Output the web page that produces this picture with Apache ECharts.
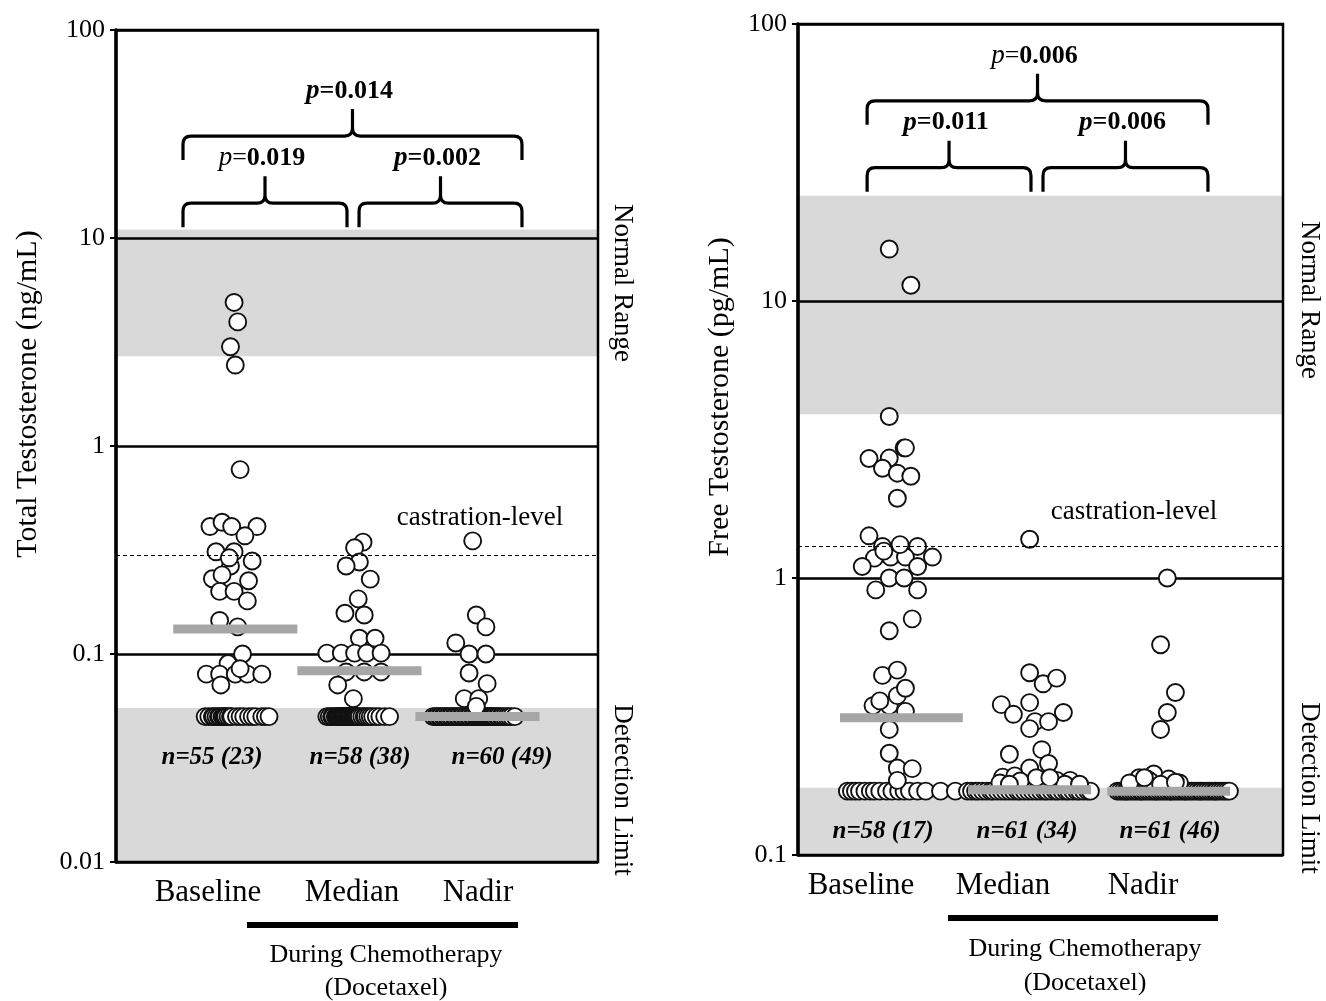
<!DOCTYPE html>
<html><head><meta charset="utf-8">
<script src="https://cdn.jsdelivr.net/npm/echarts@6/dist/echarts.min.js"></script>
<style>html,body{margin:0;padding:0;background:#fff}#c{width:1326px;height:1001px}</style>
</head><body><div id="c"></div>
<script>
// ---------- DATA ----------
const categories = ['Baseline', 'Median', 'Nadir'];

// Total testosterone (ng/mL): x = category position (1,2,3) + jitter offset
const totalBaselineOffsets = [-0.02,0.01,-0.05,-0.01,0.03,-0.22,-0.12,-0.04,0.17,0.07,-0.17,-0.02,0.13,-0.05,-0.20,-0.12,0.10,-0.14,-0.02,0.09,-0.14,0.01,0.05,-0.07,-0.25,-0.14,-0.01,0.09,0.21,-0.13,-0.06,0.03];
const totalBaselineValues  = [4.9,3.95,3.0,2.45,0.77,0.41,0.43,0.41,0.41,0.37,0.31,0.31,0.28,0.265,0.23,0.24,0.225,0.20,0.20,0.18,0.145,0.135,0.10,0.09,0.08,0.08,0.08,0.08,0.08,0.071,0.29,0.085];
const totalBaselineLimitOffsets = [-0.26,-0.23,-0.20,-0.19,-0.17,-0.15,-0.14,-0.12,-0.11,-0.10,-0.09,-0.07,-0.05,-0.04,0.00,0.03,0.06,0.10,0.13,0.16,0.21,0.24,0.27];
const totalMedianOffsets = [0.05,-0.02,0.02,-0.09,0.11,0.01,-0.10,0.06,0.02,0.15,-0.25,-0.13,-0.02,0.08,0.20,-0.09,0.06,0.20,-0.16,-0.03];
const totalMedianValues  = [0.345,0.324,0.277,0.265,0.229,0.184,0.157,0.154,0.119,0.119,0.101,0.101,0.101,0.101,0.101,0.082,0.082,0.082,0.071,0.061];
const totalMedianLimitOffsets = [-0.25,-0.23,-0.21,-0.20,-0.18,-0.17,-0.16,-0.15,-0.14,-0.13,-0.12,-0.12,-0.11,-0.10,-0.09,-0.08,-0.07,-0.07,-0.06,-0.05,-0.04,-0.03,-0.02,-0.02,-0.01,0.00,0.01,0.02,0.04,0.06,0.07,0.09,0.11,0.13,0.16,0.19,0.23,0.27];
const totalNadirOffsets = [-0.04,-0.01,0.07,-0.18,-0.07,0.07,-0.07,0.08,-0.11,0.01,-0.01];
const totalNadirValues  = [0.35,0.154,0.135,0.113,0.10,0.10,0.081,0.072,0.061,0.061,0.056];
const totalNadirLimitOffsets = [-0.37,-0.35,-0.34,-0.32,-0.31,-0.29,-0.28,-0.26,-0.25,-0.23,-0.22,-0.20,-0.19,-0.17,-0.16,-0.14,-0.13,-0.11,-0.10,-0.08,-0.07,-0.05,-0.04,-0.02,-0.01,0.00,0.01,0.02,0.03,0.04,0.05,0.06,0.07,0.08,0.09,0.10,0.11,0.12,0.13,0.14,0.16,0.17,0.19,0.20,0.22,0.24,0.26,0.28,0.31];
const totalLimitValue = 0.05;
const totalMedianLines = [0.132, 0.083, 0.05];
const totalMedianLineOffsets = [-0.01, 0.02, 0.0];
const totalNormalRange = [2.7, 11];
const totalDetectionBand = [0.01, 0.055];
const totalCastration = 0.3;
const totalN = ['n=55 (23)', 'n=58 (38)', 'n=60 (49)'];
// braces: [x start, y level, x end]
const totalBraces = [[0.556, 30.9, 3.369], [0.556, 14.7, 1.917], [2.017, 14.7, 3.369]];
const totalP = ['0.014', '0.019', '0.002'];
const totalPBold = [true, false, true];

// Free testosterone (pg/mL)
const freeBaselineOffsets = [-0.08,0.08,-0.08,-0.23,-0.08,0.03,0.04,-0.13,-0.02,0.08,-0.02,-0.23,-0.13,0.13,-0.19,-0.07,0.04,0.24,-0.28,0.13,-0.08,0.03,-0.18,0.13,0.09,-0.08,-0.13,-0.02,-0.20,-0.08,-0.02,0.04,-0.08,-0.08,-0.02,0.09,-0.02,-0.12,0.00,0.04,-0.15];
const freeBaselineValues  = [15.4,11.4,3.83,2.70,2.71,2.95,2.95,2.49,2.39,2.33,1.94,1.42,1.30,1.30,1.18,1.19,1.19,1.19,1.10,1.10,1.0,1.0,0.906,0.906,0.712,0.645,0.445,0.465,0.346,0.346,0.376,0.33,0.284,0.233,0.206,0.205,0.186,1.25,1.32,0.40,0.36];
const freeBaselineLimitOffsets = [-0.39,-0.36,-0.33,-0.30,-0.26,-0.22,-0.19,-0.15,-0.10,-0.06,-0.01,0.03,0.07,0.13,0.19,0.30,0.41];
const freeMedianOffsets = [-0.04,-0.04,0.06,0.16,-0.25,-0.16,-0.04,0.21,0.00,0.10,-0.04,-0.19,0.05,0.10,-0.04,-0.24,-0.15,0.06,0.16,0.26,-0.11,0.22,0.01,-0.26,0.33,0.11,-0.19];
const freeMedianValues  = [1.38,0.455,0.415,0.435,0.349,0.322,0.355,0.327,0.303,0.303,0.286,0.231,0.240,0.214,0.206,0.191,0.193,0.186,0.186,0.186,0.185,0.18,0.19,0.182,0.18,0.19,0.18];
const freeMedianLimitOffsets = [-0.50,-0.47,-0.44,-0.42,-0.39,-0.36,-0.33,-0.31,-0.28,-0.25,-0.22,-0.19,-0.16,-0.13,-0.11,-0.08,-0.05,-0.02,0.01,0.04,0.07,0.09,0.12,0.15,0.17,0.20,0.23,0.25,0.28,0.31,0.33,0.36,0.39,0.41];
const freeNadirOffsets = [-0.02,-0.07,0.04,-0.02,-0.07,-0.23,-0.12,-0.01,-0.17,0.07,-0.30,-0.15,-0.07,0.04,-0.19];
const freeNadirValues  = [1.0,0.574,0.386,0.327,0.284,0.19,0.196,0.188,0.188,0.182,0.182,0.185,0.18,0.183,0.19];
const freeNadirLimitOffsets = [-0.39,-0.37,-0.35,-0.33,-0.32,-0.30,-0.28,-0.26,-0.24,-0.22,-0.21,-0.19,-0.17,-0.15,-0.13,-0.11,-0.10,-0.08,-0.06,-0.04,-0.02,0.00,0.01,0.03,0.05,0.07,0.09,0.11,0.12,0.14,0.16,0.18,0.20,0.22,0.23,0.25,0.27,0.29,0.31,0.33,0.34,0.36,0.38,0.40,0.42,0.44];
const freeLimitValue = 0.17;
const freeMedianLines = [0.313, 0.172, 0.17];
const freeMedianLineOffsets = [0.01, -0.04, -0.01];
const freeNormalRange = [3.9, 24];
const freeDetectionBand = [0.1, 0.175];
const freeCastration = 1.3;
const freeN = ['n=58 (17)', 'n=61 (34)', 'n=61 (46)'];
const freeBraces = [[0.756, 52.8, 3.281], [0.756, 30.3, 1.970], [2.059, 30.3, 3.281]];
const freeP = ['0.006', '0.011', '0.006'];
const freePBold = [false, true, true];

// ---------- CHART ----------
const SERIF = "'Liberation Serif','Times New Roman',serif";
const chart = echarts.init(document.getElementById('c'), null, {renderer: 'canvas'});

function pointSeries(gi, cat, offsets, values, name) {
  return {
    type: 'scatter', name, xAxisIndex: gi, yAxisIndex: gi, z: 3,
    symbol: 'circle', symbolSize: 17, silent: true,
    itemStyle: {color: '#fff', borderColor: '#111', borderWidth: 1.9, opacity: 1},
    data: offsets.map((o, i) => [cat + o, values[i]])
  };
}
function limitSeries(gi, cat, offsets, v, name) {
  return pointSeries(gi, cat, offsets, offsets.map(() => v), name);
}
function bandSeries(gi, bands) {
  return {
    type: 'custom', xAxisIndex: gi, yAxisIndex: gi, z: -1, silent: true,
    encode: {x: -1, y: [0, 1]},
    data: bands,
    renderItem(params, api) {
      const cs = params.coordSys;
      const top = api.coord([1, api.value(1)])[1];
      const bot = api.coord([1, api.value(0)])[1];
      return {type: 'rect', shape: {x: cs.x, y: top, width: cs.width, height: bot - top}, style: {fill: '#d9d9d9'}};
    }
  };
}
function castrationSeries(gi, v) {
  return {
    type: 'line', xAxisIndex: gi, yAxisIndex: gi, data: [], z: 2, silent: true,
    markLine: {silent: true, symbol: ['none', 'none'], label: {show: false},
      lineStyle: {color: '#000', width: 1.2, type: [4, 3]}, data: [{yAxis: v}]}
  };
}
function medianSeries(gi, values, offsets, halfWidth) {
  return {
    type: 'custom', xAxisIndex: gi, yAxisIndex: gi, z: 4, silent: true,
    data: values.map((v, i) => [i + 1 + offsets[i], v]),
    renderItem(params, api) {
      const a = api.coord([api.value(0) - halfWidth, api.value(1)]);
      const b = api.coord([api.value(0) + halfWidth, api.value(1)]);
      return {type: 'rect', shape: {x: a[0], y: a[1] - 4.5, width: b[0] - a[0], height: 9}, style: {fill: '#a6a6a6'}};
    }
  };
}
function braceSeries(gi, braces, labels, bold) {
  return {
    type: 'custom', xAxisIndex: gi, yAxisIndex: gi, z: 5, silent: true,
    encode: {x: [0, 2], y: 1},
    data: braces,
    renderItem(params, api) {
      const p1 = api.coord([api.value(0), api.value(1)]);
      const p2 = api.coord([api.value(2), api.value(1)]);
      const x1 = p1[0], x2 = p2[0], y = p1[1], xm = (x1 + x2) / 2;
      const h = 24, t = 27, r = 8;
      const d = `M${x1} ${y + h} L${x1} ${y + r} Q${x1} ${y} ${x1 + r} ${y} L${xm - r} ${y} Q${xm} ${y} ${xm} ${y - r} L${xm} ${y - t}` +
                ` M${xm} ${y - r} Q${xm} ${y} ${xm + r} ${y} L${x2 - r} ${y} Q${x2} ${y} ${x2} ${y + r} L${x2} ${y + h}`;
      const isBold = bold[params.dataIndex];
      const text = isBold ? '{p|p}{b|=' + labels[params.dataIndex] + '}'
                          : '{q|p}{e|=}{b|' + labels[params.dataIndex] + '}';
      return {
        type: 'group',
        children: [
          {type: 'path', shape: {pathData: d}, style: {fill: null, stroke: '#000', lineWidth: 3.2}},
          {type: 'text', x: xm - 3, y: y - t - 18,
           style: {text,
             rich: {
               p: {font: `italic bold 27px ${SERIF}`, fill: '#000'},
               q: {font: `italic 27px ${SERIF}`, fill: '#000'},
               e: {font: `26px ${SERIF}`, fill: '#000'},
               b: {font: `bold 26px ${SERIF}`, fill: '#000'}
             },
             align: 'center', verticalAlign: 'middle', textAlign: 'center', textVerticalAlign: 'middle'}}
        ]
      };
    }
  };
}
function yAxis(gi, min, max) {
  return {
    gridIndex: gi, type: 'log', logBase: 10, min, max,
    axisLine: {show: true, lineStyle: {color: '#000', width: 3.5}},
    axisTick: {show: true, length: 6, lineStyle: {color: '#000', width: 2}},
    minorTick: {show: false},
    splitLine: {show: true, lineStyle: {color: '#000', width: 2.6}},
    axisLabel: {color: '#000', fontFamily: SERIF, fontSize: 26, margin: 11,
      formatter: v => String(+(+v).toPrecision(1))}
  };
}
function txt(x, y, text, size, extra) {
  extra = extra || {};
  return {
    type: 'text', x, y, rotation: extra.rotation || 0, silent: true,
    style: {text, font: `${extra.style || ''} ${extra.weight || ''} ${size}px ${SERIF}`, fill: '#000',
      align: 'center', verticalAlign: 'middle', textAlign: 'center', textVerticalAlign: 'middle'}
  };
}

const option = {
  animation: false,
  backgroundColor: '#fff',
  grid: [
    {left: 116, top: 30, width: 482, height: 832, show: true, borderColor: '#000', borderWidth: 2.5},
    {left: 798, top: 24, width: 485, height: 831, show: true, borderColor: '#000', borderWidth: 2.5}
  ],
  xAxis: [
    {gridIndex: 0, type: 'value', min: 0, max: 4, show: false},
    {gridIndex: 1, type: 'value', min: 0.244, max: 3.837, show: false}
  ],
  yAxis: [yAxis(0, 0.01, 100), yAxis(1, 0.1, 100)],
  series: [
    bandSeries(0, [totalNormalRange, totalDetectionBand]),
    castrationSeries(0, totalCastration),
    limitSeries(0, 1, totalBaselineLimitOffsets, totalLimitValue, categories[0]),
    pointSeries(0, 1, totalBaselineOffsets, totalBaselineValues, categories[0]),
    limitSeries(0, 2, totalMedianLimitOffsets, totalLimitValue, categories[1]),
    pointSeries(0, 2, totalMedianOffsets, totalMedianValues, categories[1]),
    limitSeries(0, 3, totalNadirLimitOffsets, totalLimitValue, categories[2]),
    pointSeries(0, 3, totalNadirOffsets, totalNadirValues, categories[2]),
    medianSeries(0, totalMedianLines, totalMedianLineOffsets, 0.515),
    braceSeries(0, totalBraces, totalP, totalPBold),

    bandSeries(1, [freeNormalRange, freeDetectionBand]),
    castrationSeries(1, freeCastration),
    limitSeries(1, 1, freeBaselineLimitOffsets, freeLimitValue, categories[0]),
    pointSeries(1, 1, freeBaselineOffsets, freeBaselineValues, categories[0]),
    limitSeries(1, 2, freeMedianLimitOffsets, freeLimitValue, categories[1]),
    pointSeries(1, 2, freeMedianOffsets, freeMedianValues, categories[1]),
    limitSeries(1, 3, freeNadirLimitOffsets, freeLimitValue, categories[2]),
    pointSeries(1, 3, freeNadirOffsets, freeNadirValues, categories[2]),
    medianSeries(1, freeMedianLines, freeMedianLineOffsets, 0.455),
    braceSeries(1, freeBraces, freeP, freePBold)
  ],
  graphic: [
    txt(28, 394, 'Total Testosterone (ng/mL)', 30, {rotation: Math.PI / 2}),
    txt(720, 397, 'Free Testosterone (pg/mL)', 30, {rotation: Math.PI / 2}),
    txt(622, 283, 'Normal Range', 27, {rotation: -Math.PI / 2}),
    txt(622, 790, 'Detection Limit', 27, {rotation: -Math.PI / 2}),
    txt(1309, 300, 'Normal Range', 27, {rotation: -Math.PI / 2}),
    txt(1309, 788, 'Detection Limit', 27, {rotation: -Math.PI / 2}),
    txt(480, 518, 'castration-level', 27),
    txt(1134, 512, 'castration-level', 27),
    txt(212, 758, totalN[0], 25, {style: 'italic', weight: 'bold'}),
    txt(360, 758, totalN[1], 25, {style: 'italic', weight: 'bold'}),
    txt(502, 758, totalN[2], 25, {style: 'italic', weight: 'bold'}),
    txt(883, 832, freeN[0], 25, {style: 'italic', weight: 'bold'}),
    txt(1027, 832, freeN[1], 25, {style: 'italic', weight: 'bold'}),
    txt(1170, 832, freeN[2], 25, {style: 'italic', weight: 'bold'}),
    txt(208, 893, categories[0], 31),
    txt(352, 893, categories[1], 31),
    txt(478, 893, categories[2], 31),
    txt(861, 886, categories[0], 31),
    txt(1003, 886, categories[1], 31),
    txt(1143, 886, categories[2], 31),
    {type: 'rect', silent: true, shape: {x: 247, y: 922, width: 271, height: 6}, style: {fill: '#000'}},
    {type: 'rect', silent: true, shape: {x: 948, y: 915, width: 270, height: 6}, style: {fill: '#000'}},
    txt(386, 955, 'During Chemotherapy', 26),
    txt(386, 988, '(Docetaxel)', 26),
    txt(1085, 949, 'During Chemotherapy', 26),
    txt(1085, 983, '(Docetaxel)', 26)
  ]
};
chart.setOption(option);
</script>
</body></html>
